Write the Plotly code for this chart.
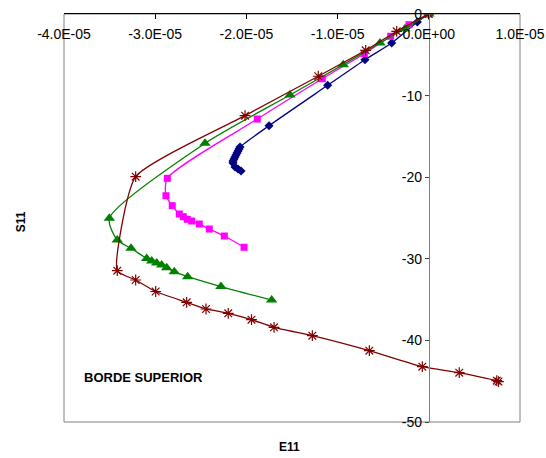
import plotly.graph_objects as go

# ---- data ----
blue_x = [0, -1.26e-6, -4.07e-6, -7.00e-6, -1.109e-5, -1.752e-5, -2.070e-5, -2.081e-5,
          -2.092e-5, -2.103e-5, -2.114e-5, -2.125e-5, -2.136e-5, -2.147e-5, -2.147e-5,
          -2.125e-5, -2.092e-5, -2.059e-5]
blue_y = [0, -0.98, -3.55, -5.60, -8.74, -13.69, -16.30, -16.54, -16.79, -17.03, -17.28,
          -17.52, -17.77, -18.01, -18.26, -18.75, -19.00, -19.24]

mag_x = [0, -2.17e-6, -4.18e-6, -7.07e-6, -1.168e-5, -1.881e-5, -2.867e-5, -2.882e-5,
         -2.813e-5, -2.736e-5, -2.692e-5, -2.648e-5, -2.600e-5, -2.517e-5, -2.407e-5,
         -2.242e-5, -2.026e-5]
mag_y = [0, -1.31, -2.73, -4.87, -7.93, -12.87, -20.14, -22.27, -23.49, -24.51, -24.84,
         -25.16, -25.37, -25.74, -26.35, -27.21, -28.59]

green_x = [0, -2.61e-6, -5.35e-6, -9.38e-6, -1.522e-5, -2.454e-5, -3.503e-5, -3.416e-5,
           -3.265e-5, -3.093e-5, -3.038e-5, -2.984e-5, -2.929e-5, -2.874e-5, -2.791e-5,
           -2.644e-5, -2.279e-5, -1.723e-5]
green_y = [0, -1.80, -3.55, -6.21, -9.93, -15.85, -25.04, -27.70, -28.71, -29.96, -30.27,
           -30.51, -30.76, -31.09, -31.58, -32.19, -33.40, -35.05]

red_x = [0, -3.52e-6, -6.92e-6, -1.212e-5, -2.015e-5, -3.214e-5, -3.416e-5, -3.214e-5,
         -2.995e-5, -2.655e-5, -2.443e-5, -2.199e-5, -1.944e-5, -1.697e-5, -1.277e-5,
         -6.52e-6, -7.1e-7, 3.34e-6, 7.45e-6, 7.64e-6]
red_y = [0, -2.12, -4.45, -7.63, -12.46, -19.94, -31.46, -32.60, -34.01, -35.33, -36.15,
         -36.68, -37.46, -38.40, -39.42, -41.26, -43.22, -43.96, -44.94, -45.04]

x_ticks = [-4e-5, -3e-5, -2e-5, -1e-5, 0, 1e-5]
x_tick_text = ["-4.0E-05", "-3.0E-05", "-2.0E-05", "-1.0E-05", "0.0E+00", "1.0E-05"]
y_ticks = [0, -10, -20, -30, -40, -50]
y_tick_text = ["0", "-10", "-20", "-30", "-40", "-50"]

FONT = "Liberation Sans, Arial, sans-serif"

fig = go.Figure()
fig.add_trace(go.Scatter(x=blue_x, y=blue_y, mode="lines+markers",
                         line=dict(color="#000080", width=1.3, shape="spline", smoothing=0.7),
                         marker=dict(symbol="diamond", size=7, color="#000080")))
fig.add_trace(go.Scatter(x=mag_x, y=mag_y, mode="lines+markers",
                         line=dict(color="#FF00FF", width=1.3, shape="spline", smoothing=0.7),
                         marker=dict(symbol="square", size=7, color="#FF00FF")))
fig.add_trace(go.Scatter(x=green_x, y=green_y, mode="lines+markers",
                         line=dict(color="#008000", width=1.3, shape="spline", smoothing=0.7),
                         marker=dict(symbol="triangle-up", size=10, color="#008000")))
fig.add_trace(go.Scatter(x=red_x, y=red_y, mode="lines+markers",
                         line=dict(color="#800000", width=1.3, shape="spline", smoothing=0.5),
                         marker=dict(symbol="asterisk-open", size=9,
                                     line=dict(color="#800000", width=1.2))))

fig.update_layout(
    width=546, height=458,
    margin=dict(l=64, r=26, t=14, b=36),
    paper_bgcolor="white", plot_bgcolor="white",
    showlegend=False,
    font=dict(family=FONT, size=14, color="black"),
    xaxis=dict(range=[-4e-5, 1e-5], side="top", tickvals=x_ticks, ticktext=x_tick_text,
               ticks="inside", ticklen=5, tickcolor="black", showline=True,
               linecolor="black", linewidth=1, showgrid=False, zeroline=False,
               ticklabelstandoff=-32, tickfont=dict(size=14), automargin=False),
    yaxis=dict(range=[-50, 0], anchor="free", position=0.8, tickvals=y_ticks,
               ticktext=y_tick_text, ticks="outside", ticklen=4, tickcolor="#404040",
               showline=True, linecolor="#808080", linewidth=1, showgrid=False,
               zeroline=False, tickfont=dict(size=14), automargin=False),
    shapes=[dict(type="rect", xref="x domain", yref="y domain", x0=0, x1=1, y0=0, y1=1,
                 line=dict(color="#808080", width=1), layer="below")],
    annotations=[
        dict(text="<b>E11</b>", xref="paper", yref="paper", x=0.495, y=-0.061,
             xanchor="center", yanchor="middle", showarrow=False, font=dict(size=12)),
        dict(text="<b>S11</b>", xref="paper", yref="paper", x=-0.094, y=0.49,
             xanchor="center", yanchor="middle", textangle=-90, showarrow=False,
             font=dict(size=12)),
        dict(text="<b>BORDE SUPERIOR</b>", x=-3.802e-5, y=-44.6, xanchor="left",
             yanchor="middle", showarrow=False, font=dict(size=13)),
    ],
)

fig.write_html("out.html")
